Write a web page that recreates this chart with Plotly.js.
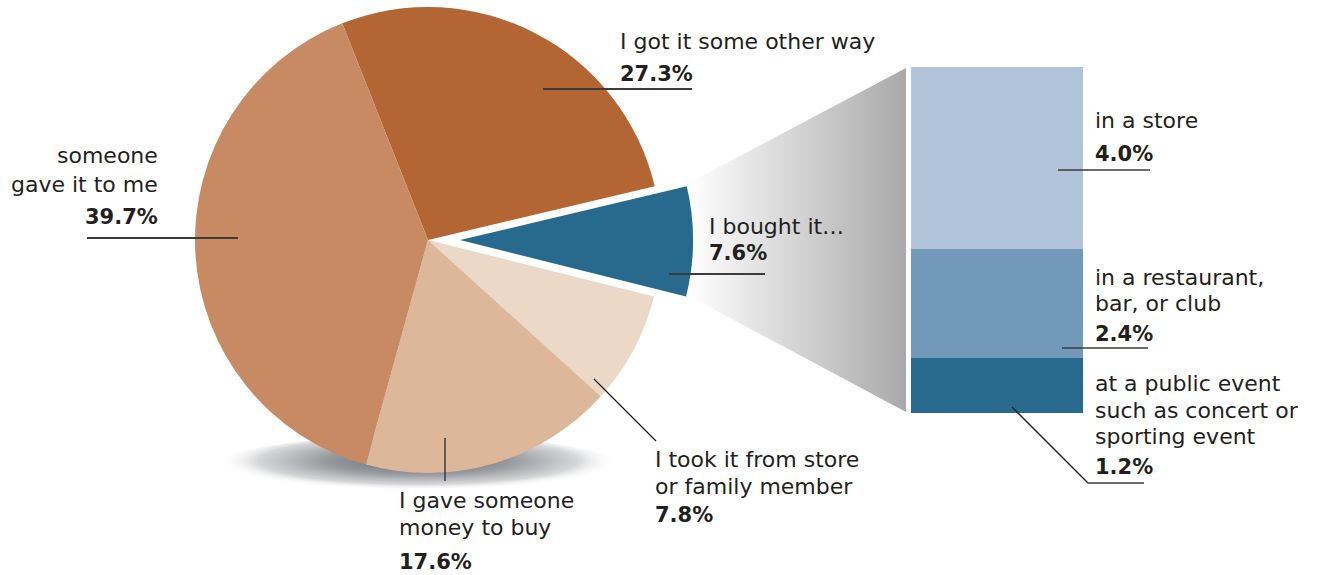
<!DOCTYPE html>
<html>
<head>
<meta charset="utf-8">
<script src="https://cdn.plot.ly/plotly-3.0.1.min.js"></script>
<style>
  html, body { margin: 0; padding: 0; background: #fff; }
  #chart { width: 1319px; height: 575px; }
</style>
</head>
<body>
<div id="chart"></div>
<script>
// ---------------- data ----------------
const pieLabels = ['I got it some other way', 'I bought it…', 'I took it from store<br>or family member', 'I gave someone<br>money to buy', 'someone<br>gave it to me'];
const pieValues = [27.3, 7.6, 7.8, 17.6, 39.7];
const pieColors = ['#b36633', '#286a8e', '#ecd8c6', '#dcb79a', '#c78a62'];

const boughtLabels = ['at a public event<br>such as concert or<br>sporting event', 'in a restaurant,<br>bar, or club', 'in a store'];
const boughtValues = [1.2, 2.4, 4.0];
const boughtColors = ['#286a8e', '#7298ba', '#b2c4da'];

// ---------------- helpers ----------------
const W = 1319, H = 575;
const px = x => x / W;
const py = y => 1 - y / H;
const FONT = 'DejaVu Sans, sans-serif';
const TXT = '#231f20';
const pct = v => v.toFixed(1) + '%';

// pie geometry (pixels)
const cx = 428, cy = 240, R = 233, pullPx = 32;
const boughtIdx = 1;

const transparent = 'rgba(0,0,0,0)';
const mainColors = pieColors.map((c, i) => i === boughtIdx ? transparent : c);
const pulledColors = pieColors.map((c, i) => i === boughtIdx ? c : transparent);

const pieBase = {
  type: 'pie', labels: pieLabels, values: pieValues, sort: false,
  direction: 'clockwise', rotation: -21.6, textinfo: 'none',
  hoverinfo: 'none', showlegend: false, marker: {line: {width: 0}}
};

const traces = [
  Object.assign({}, pieBase, {
    marker: {colors: mainColors, line: {width: 0}},
    domain: {x: [px(cx - R), px(cx + R)], y: [py(cy + R), py(cy - R)]}
  }),
  Object.assign({}, pieBase, {
    marker: {colors: pulledColors, line: {width: 0}},
    domain: {x: [px(cx + pullPx - R), px(cx + pullPx + R)], y: [py(cy + R), py(cy - R)]}
  })
];

boughtValues.forEach((v, i) => {
  traces.push({
    type: 'bar', x: [0], y: [v], width: [1], marker: {color: boughtColors[i], line: {width: 0}},
    hoverinfo: 'none', showlegend: false, xaxis: 'x', yaxis: 'y'
  });
});

// ---------------- annotations ----------------
const annotations = [];
function addLines(text, x, ys, anchor, bold) {
  const lines = text.split('<br>');
  const dx = anchor === 'left' ? -2 : 2;
  lines.forEach((ln, i) => {
    annotations.push({
      xref: 'paper', yref: 'paper', x: px(x + dx), y: py(ys[i]),
      xanchor: anchor, yanchor: 'middle', showarrow: false,
      text: bold ? '<b>' + ln + '</b>' : ln,
      font: {family: FONT, size: bold ? 21 : 22, color: TXT}
    });
  });
}
// pie labels: text x, line ys, percent y, anchor
const piePos = [
  {x: 620, ys: [41], py: 74, a: 'left'},
  {x: 709, ys: [226], py: 253, a: 'left'},
  {x: 655, ys: [459, 486], py: 515, a: 'left'},
  {x: 399, ys: [500, 527], py: 562, a: 'left'},
  {x: 158, ys: [155, 184], py: 217, a: 'right'}
];
pieLabels.forEach((lab, i) => {
  const p = piePos[i];
  addLines(lab, p.x, p.ys, p.a, false);
  addLines(pct(pieValues[i]), p.x, [p.py], p.a, true);
});
const barPos = [
  {x: 1095, ys: [383, 410, 436], py: 467},
  {x: 1095, ys: [277, 303], py: 334},
  {x: 1095, ys: [121], py: 154}
];
boughtLabels.forEach((lab, i) => {
  const p = barPos[i];
  addLines(lab, p.x, p.ys, 'left', false);
  addLines(pct(boughtValues[i]), p.x, [p.py], 'left', true);
});

// ---------------- leader lines ----------------
const shapes = [];
function seg(x0, y0, x1, y1, w, c) {
  shapes.push({type: 'line', xref: 'paper', yref: 'paper', x0: px(x0), y0: py(y0), x1: px(x1), y1: py(y1),
    line: {color: c || '#3c3c3c', width: w || 2}, layer: 'above'});
}
seg(87, 238, 238, 238);
seg(543, 89, 692, 89);
seg(669, 274, 765, 274);
seg(594, 379, 656, 441, 1.3, '#1e1e1e');
seg(445, 438, 445, 481, 1.5);
seg(1058, 170, 1150, 170, 1.5);
seg(1062, 348, 1148, 348, 1.5);
seg(1012, 407, 1088, 483, 1.3, '#1e1e1e');
seg(1088, 483, 1144, 483, 1.5);

// ---------------- decorative images ----------------
const shadowSvg = "<svg xmlns='http://www.w3.org/2000/svg' width='400' height='60' viewBox='0 0 400 60' preserveAspectRatio='none'>" +
  "<defs><radialGradient id='g' cx='0.5' cy='0.42' r='0.5'>" +
  "<stop offset='0' stop-color='#65686e'/><stop offset='0.45' stop-color='#95989c'/>" +
  "<stop offset='0.8' stop-color='#d6d7d9'/><stop offset='1' stop-color='#ffffff' stop-opacity='0'/>" +
  "</radialGradient></defs><ellipse cx='200' cy='30' rx='200' ry='30' fill='url(#g)'/></svg>";
const trapSvg = "<svg xmlns='http://www.w3.org/2000/svg' width='219' height='344' viewBox='0 0 219 344' preserveAspectRatio='none'>" +
  "<defs><linearGradient id='t' x1='0' y1='0' x2='1' y2='0'>" +
  "<stop offset='0' stop-color='#ffffff'/><stop offset='1' stop-color='#a9a9a9'/>" +
  "</linearGradient></defs><polygon points='0,116 219,0 219,344 0,227' fill='url(#t)'/></svg>";
const uri = s => 'data:image/svg+xml;charset=utf-8,' + encodeURIComponent(s);

const images = [
  {source: uri(shadowSvg), xref: 'paper', yref: 'paper', x: px(218), y: py(436), sizex: px(618) - px(218),
   sizey: py(436) - py(495), xanchor: 'left', yanchor: 'top', sizing: 'stretch', layer: 'below'},
  {source: uri(trapSvg), xref: 'paper', yref: 'paper', x: px(687), y: py(68), sizex: px(906) - px(687),
   sizey: py(68) - py(412), xanchor: 'left', yanchor: 'top', sizing: 'stretch', layer: 'below'}
];

const layout = {
  width: W, height: H, margin: {l: 0, r: 0, t: 0, b: 0},
  paper_bgcolor: '#fff', plot_bgcolor: 'rgba(0,0,0,0)',
  barmode: 'stack', bargap: 0,
  xaxis: {domain: [px(911), px(1083)], range: [-0.5, 0.5], visible: false, fixedrange: true},
  yaxis: {domain: [py(413), py(67)], range: [0, 7.6], visible: false, fixedrange: true},
  annotations: annotations, shapes: shapes, images: images,
  showlegend: false
};

Plotly.newPlot('chart', traces, layout, {displayModeBar: false, staticPlot: true});
</script>
</body>
</html>
